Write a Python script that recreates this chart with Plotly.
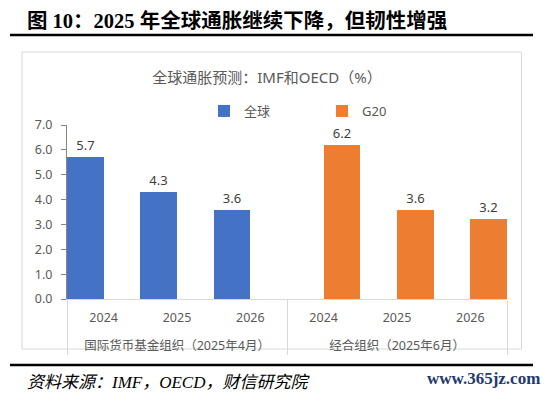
import plotly.graph_objects as go

# ---- data ----
group_names = ["国际货币基金组织（2025年4月）", "经合组织（2025年6月）"]
years = ["2024", "2025", "2026", "2024", "2025", "2026"]
global_vals = [5.7, 4.3, 3.6, None, None, None]
g20_vals = [None, None, None, 6.2, 3.6, 3.2]
series_names = ["全球", "G20"]
colors = ["#4472C4", "#ED7D31"]

header = "图 10：2025 年全球通胀继续下降，但韧性增强"
chart_title = "全球通胀预测：IMF和OECD（%）"
source = "资料来源：IMF，OECD，财信研究院"
site = "www.365jz.com"

# group labels get a leading line break to sit lower, as in the reference
groups = ["<br>" + group_names[0]] * 3 + ["<br>" + group_names[1]] * 3

# the page body adds an 8px offset, so the figure is 8px smaller
O = 8
W, H = 550 - O, 393 - O
PLOT_L, PLOT_R, PLOT_T, PLOT_B = 67, 507, 125, 299  # in reference pixels
L, R, T, B = PLOT_L - O, W - (PLOT_R - O), PLOT_T - O, H - (PLOT_B - O)
PW, PH = PLOT_R - PLOT_L, PLOT_B - PLOT_T


def px(x):
    return (x - PLOT_L) / PW


def py(y):
    return (PLOT_B - y) / PH


FONT = "Noto Sans, Noto Sans CJK SC"

fig = go.Figure()
for i, (name, vals) in enumerate(zip(series_names, [global_vals, g20_vals])):
    fig.add_trace(go.Bar(
        x=[groups, years], y=vals, name=name,
        marker=dict(color=colors[i], line=dict(width=0)),
        texttemplate="%{y:.1f}", textposition="outside",
        textfont=dict(size=13, color="#404040", family=FONT),
        cliponaxis=False,
        legend="legend" if i == 0 else "legend2",
    ))

fig.update_layout(
    width=W, height=H,
    margin=dict(l=L, r=R, t=T, b=B),
    paper_bgcolor="white", plot_bgcolor="white",
    barmode="group", bargap=0, bargroupgap=0,
    font=dict(family=FONT, color="#595959"),
    title=dict(text=chart_title, x=px(267), xref="paper", xanchor="center",
               y=1 - (78 - O) / H, yref="container", yanchor="middle",
               font=dict(size=15, color="#595959", family=FONT)),
    legend=dict(orientation="h", x=px(204), y=py(111), xanchor="left", yanchor="middle",
                font=dict(size=13, color="#595959"), bgcolor="rgba(0,0,0,0)"),
    legend2=dict(orientation="h", x=px(322), y=py(111), xanchor="left", yanchor="middle",
                 font=dict(size=13, color="#595959"), bgcolor="rgba(0,0,0,0)"),
    xaxis=dict(type="multicategory", showline=True, linecolor="#D9D9D9", linewidth=1,
               ticks="", showdividers=True, dividercolor="#D9D9D9", dividerwidth=1,
               ticklabelstandoff=7,
               tickfont=dict(size=12.5, color="#595959"), showgrid=False),
    yaxis=dict(range=[0, 7], dtick=1, tickformat=".1f", showgrid=False, zeroline=False,
               showline=True, linecolor="#868686", linewidth=1,
               ticks="outside", ticklen=5, tickcolor="#868686",
               ticklabelstandoff=6,
               tickfont=dict(size=12.5, color="#595959")),
    showlegend=True,
)

shapes = [
    dict(type="rect", xref="paper", yref="paper", x0=px(22), x1=px(521.5), y0=py(349), y1=py(52),
         line=dict(color="#D9D9D9", width=1), fillcolor="rgba(0,0,0,0)", layer="below"),
    dict(type="line", xref="paper", yref="paper", x0=px(10), x1=px(533), y0=py(35), y1=py(35),
         line=dict(color="black", width=2.5)),
    dict(type="line", xref="paper", yref="paper", x0=px(10), x1=px(533), y0=py(365), y1=py(365),
         line=dict(color="black", width=2.5)),
]
fig.update_layout(shapes=shapes)

fig.add_annotation(text="<b>" + header + "</b>", xref="paper", yref="paper",
                   x=px(25), y=py(20.5), xanchor="left", yanchor="middle", showarrow=False,
                   font=dict(size=20.5, color="black", family="Liberation Serif, Noto Sans CJK SC"))
fig.add_annotation(text="<i>" + source + "</i>", xref="paper", yref="paper",
                   x=px(25), y=py(382), xanchor="left", yanchor="middle", showarrow=False,
                   font=dict(size=17, color="black", family="Liberation Serif, Noto Sans CJK SC"))
fig.add_annotation(text="<b>" + site + "</b>", xref="paper", yref="paper",
                   x=px(542), y=py(378), xanchor="right", yanchor="middle", showarrow=False,
                   font=dict(size=17, color="#1F3A6E", family="Liberation Serif"))

fig.write_html("out.html")
